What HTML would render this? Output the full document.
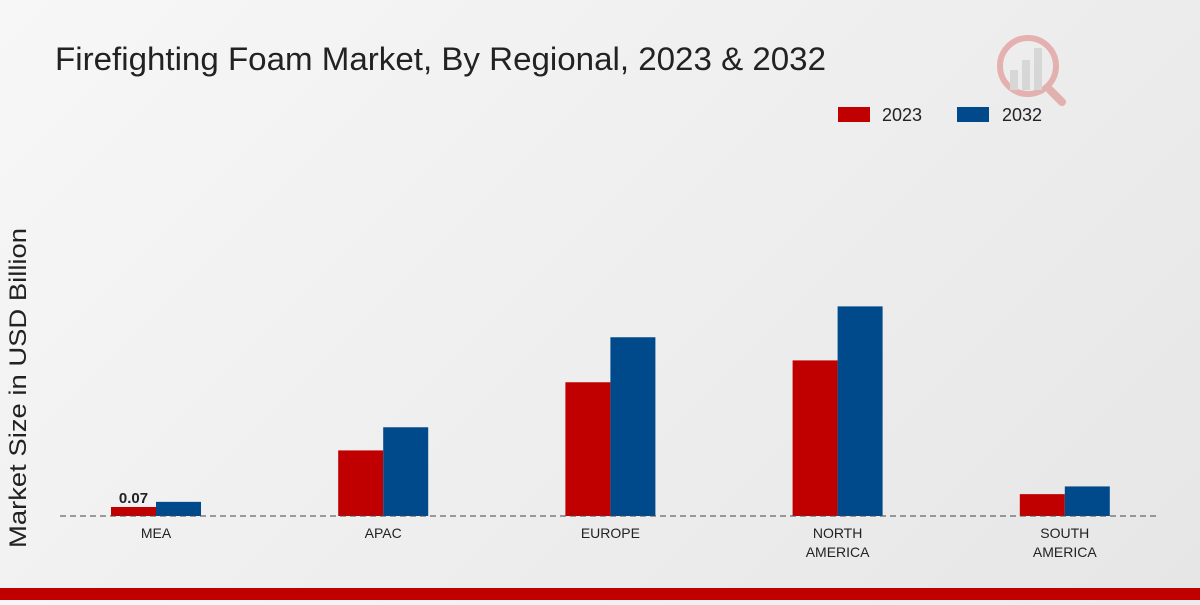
<!DOCTYPE html>
<html><head><meta charset="utf-8"><style>
body{margin:0;width:1200px;height:600px;overflow:hidden;background:linear-gradient(135deg,#f7f7f7 0%,#e6e6e6 100%);font-family:"Liberation Sans",sans-serif}
</style></head><body>
<svg id="chart" width="1200" height="600" xmlns="http://www.w3.org/2000/svg">
<text x="55" y="70" font-size="32" fill="#222" textLength="771" lengthAdjust="spacingAndGlyphs">Firefighting Foam Market, By Regional, 2023 &amp; 2032</text>
<g opacity="0.25">
<circle cx="1028" cy="66" r="28" fill="none" stroke="#c00" stroke-width="6"/>
<rect x="1010" y="70" width="8" height="20" fill="#999"/><rect x="1022" y="60" width="8" height="30" fill="#999"/><rect x="1034" y="48" width="8" height="42" fill="#999"/>
<line x1="1050" y1="90" x2="1062" y2="102" stroke="#c00" stroke-width="8" stroke-linecap="round"/>
</g>
<g>
<rect x="838" y="107" width="32" height="15" fill="#c00000"/>
<text x="882" y="121" font-size="18" fill="#222">2023</text>
<rect x="957" y="107" width="32" height="15" fill="#004a8c"/>
<text x="1002" y="121" font-size="18" fill="#222">2032</text>
</g>
<text transform="translate(26,388) rotate(-90)" text-anchor="middle" font-size="24" fill="#222" textLength="320" lengthAdjust="spacingAndGlyphs">Market Size in USD Billion</text>
<g id="bars"></g>
<line x1="60" y1="516" x2="1160" y2="516" stroke="#444" stroke-dasharray="6,4"/>
<rect x="0" y="588" width="1200" height="12" fill="#c00000"/>
</svg>
<script>
const categories=[["MEA"],["APAC"],["EUROPE"],["NORTH","AMERICA"],["SOUTH","AMERICA"]];
const values2023=[0.07,0.51,1.04,1.21,0.17];
const values2032=[0.11,0.69,1.39,1.63,0.23];
const ns="http://www.w3.org/2000/svg";
const g=document.getElementById('bars');
const base=516,pxPerUnit=128.6;
const xc=i=>156+i*227.2;
const y=v=>base-v*pxPerUnit;
function mk(tag,a){const e=document.createElementNS(ns,tag);for(const k in a)e.setAttribute(k,a[k]);g.appendChild(e);return e;}
categories.forEach((c,i)=>{
 const r1=mk('rect',{x:xc(i)-45,y:y(values2023[i]),width:45,height:base-y(values2023[i]),fill:'#c00000'});
 
 
 const r2=mk('rect',{x:xc(i),y:y(values2032[i]),width:45,height:base-y(values2032[i]),fill:'#004a8c'});
 
 
 c.forEach((line,j)=>{
  const t=mk('text',{x:xc(i),y:538+j*19,'text-anchor':'middle','font-size':14,fill:'#222'});
  t.textContent=line;
  
  
 });
});
const lab=mk('text',{x:xc(0)-22.5,y:y(values2023[0])-4,'text-anchor':'middle','font-size':15,'font-weight':'bold',fill:'#222'});
lab.textContent=values2023[0].toFixed(2);


</script>
</body></html>
